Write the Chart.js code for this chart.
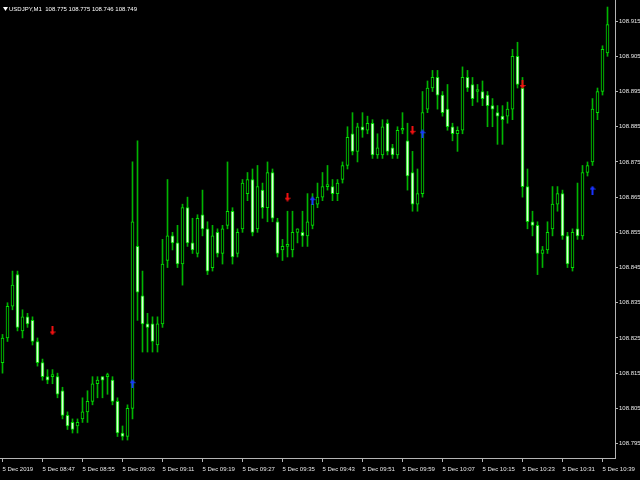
<!DOCTYPE html>
<html>
<head>
<meta charset="utf-8">
<script src="https://cdn.jsdelivr.net/npm/chart.js@4"></script>
<style>
  html, body { margin: 0; padding: 0; background: #000; }
  canvas { display: block; background: #000; }
</style>
</head>
<body>
<canvas id="chart" width="640" height="480"></canvas>
<script>
// USDJPY M1, 5 Dec 2019 08:39 - 10:40
const opens = [108.818,108.825,108.834,108.843,108.827,108.831,108.830,108.824,108.818,108.814,
  108.814,108.814,108.810,108.803,108.801,108.800,108.802,108.804,108.807,108.812,
  108.814,108.814,108.813,108.807,108.798,108.797,108.805,108.851,108.837,108.829,
  108.829,108.823,108.829,108.847,108.854,108.852,108.846,108.862,108.852,108.849,
  108.860,108.856,108.845,108.855,108.849,108.857,108.861,108.849,108.856,108.866,
  108.870,108.856,108.867,108.862,108.872,108.858,108.850,108.851,108.850,108.855,
  108.855,108.854,108.857,108.863,108.865,108.868,108.868,108.866,108.870,108.874,
  108.883,108.878,108.885,108.884,108.886,108.877,108.877,108.886,108.879,108.877,
  108.884,108.881,108.872,108.863,108.866,108.890,108.896,108.899,108.894,108.890,
  108.885,108.883,108.884,108.899,108.897,108.895,108.895,108.894,108.891,108.889,
  108.888,108.888,108.890,108.905,108.896,108.868,108.858,108.857,108.849,108.850,
  108.856,108.863,108.866,108.854,108.845,108.856,108.854,108.872,108.875,108.889,
  108.895,108.906];
const highs = [108.826,108.835,108.844,108.844,108.833,108.832,108.831,108.825,108.819,108.816,
  108.816,108.815,108.811,108.804,108.802,108.802,108.808,108.810,108.814,108.814,
  108.814,108.815,108.814,108.808,108.800,108.806,108.875,108.881,108.844,108.832,
  108.831,108.831,108.853,108.870,108.855,108.857,108.863,108.865,108.859,108.860,
  108.867,108.858,108.857,108.856,108.857,108.875,108.862,108.856,108.870,108.872,
  108.873,108.874,108.869,108.875,108.873,108.859,108.853,108.861,108.861,108.856,
  108.861,108.866,108.866,108.869,108.872,108.874,108.870,108.870,108.875,108.885,
  108.889,108.886,108.889,108.888,108.887,108.883,108.887,108.887,108.880,108.885,
  108.889,108.886,108.878,108.873,108.895,108.898,108.901,108.901,108.895,108.897,
  108.886,108.885,108.902,108.901,108.899,108.897,108.898,108.895,108.893,108.891,
  108.891,108.892,108.907,108.909,108.899,108.873,108.861,108.858,108.851,108.858,
  108.868,108.868,108.867,108.855,108.856,108.869,108.874,108.875,108.893,108.896,
  108.908,108.919];
const lows = [108.815,108.824,108.833,108.827,108.825,108.828,108.823,108.817,108.813,108.812,
  108.812,108.808,108.802,108.799,108.798,108.798,108.801,108.801,108.806,108.808,
  108.808,108.809,108.806,108.797,108.796,108.796,108.802,108.830,108.821,108.821,
  108.821,108.821,108.828,108.845,108.850,108.845,108.840,108.851,108.849,108.848,
  108.854,108.843,108.844,108.848,108.846,108.856,108.846,108.848,108.855,108.864,
  108.854,108.855,108.859,108.858,108.858,108.848,108.847,108.848,108.848,108.852,
  108.851,108.851,108.856,108.862,108.864,108.867,108.864,108.864,108.869,108.873,
  108.877,108.875,108.882,108.883,108.876,108.876,108.876,108.877,108.876,108.876,
  108.883,108.867,108.861,108.861,108.865,108.889,108.895,108.890,108.888,108.884,
  108.881,108.878,108.883,108.895,108.891,108.892,108.891,108.885,108.885,108.880,
  108.880,108.886,108.887,108.896,108.865,108.856,108.854,108.843,108.845,108.849,
  108.854,108.861,108.853,108.845,108.844,108.853,108.853,108.871,108.874,108.887,
  108.894,108.905];
const closes = [108.825,108.834,108.840,108.828,108.831,108.829,108.824,108.818,108.814,108.813,
  108.814,108.809,108.803,108.800,108.799,108.801,108.804,108.807,108.812,108.813,
  108.813,108.814,108.807,108.798,108.797,108.805,108.858,108.838,108.829,108.828,
  108.824,108.829,108.846,108.854,108.852,108.846,108.862,108.852,108.850,108.859,
  108.856,108.844,108.854,108.849,108.856,108.861,108.848,108.855,108.869,108.870,
  108.855,108.868,108.862,108.872,108.859,108.849,108.851,108.851,108.855,108.856,
  108.854,108.858,108.863,108.865,108.868,108.868,108.866,108.869,108.874,108.882,
  108.878,108.885,108.884,108.886,108.877,108.879,108.885,108.878,108.877,108.884,
  108.884,108.871,108.863,108.866,108.889,108.896,108.899,108.894,108.889,108.885,
  108.883,108.884,108.899,108.896,108.893,108.895,108.893,108.891,108.890,108.888,
  108.887,108.890,108.905,108.897,108.868,108.858,108.857,108.849,108.850,108.855,
  108.863,108.866,108.854,108.846,108.855,108.854,108.872,108.874,108.890,108.895,
  108.907,108.914];

// signal arrows (candle index, price)
const sellIdx = [10, 57, 82, 104];
const sellPrice = [108.827, 108.865, 108.884, 108.897];
const buyIdx = [26, 62, 84, 118];
const buyPrice = [108.812, 108.864, 108.883, 108.867];

const priceTicks = [108.795,108.805,108.815,108.825,108.835,108.845,108.855,108.865,108.875,108.885,108.895,108.905,108.915];
const dateTicks = ['5 Dec 2019','5 Dec 08:47','5 Dec 08:55','5 Dec 09:03','5 Dec 09:11','5 Dec 09:19','5 Dec 09:27','5 Dec 09:35',
  '5 Dec 09:43','5 Dec 09:51','5 Dec 09:59','5 Dec 10:07','5 Dec 10:15','5 Dec 10:23','5 Dec 10:31','5 Dec 10:39'];
const headerText = 'USDJPY,M1  108.775 108.775 108.746 108.749';

// one category per minute, plus an empty slot on the right
const slots = Array.from({ length: opens.length + 1 }, (_, i) => {
  const m = 8 * 60 + 39 + i;
  return String(Math.floor(m / 60)).padStart(2, '0') + ':' + String(m % 60).padStart(2, '0');
});

const FONT = '"Liberation Sans", Arial, sans-serif';
const AXIS = '#b4b4b4';

function makeArrow(color, up) {
  const cv = document.createElement('canvas');
  cv.width = 6; cv.height = 9;
  const g = cv.getContext('2d');
  g.fillStyle = color;
  if (up) {
    g.beginPath(); g.moveTo(3, 0); g.lineTo(6, 4); g.lineTo(0, 4); g.closePath(); g.fill();
    g.fillRect(2, 4, 2, 5);
  } else {
    g.fillRect(2, 0, 2, 5);
    g.beginPath(); g.moveTo(0, 5); g.lineTo(6, 5); g.lineTo(3, 9); g.closePath(); g.fill();
  }
  return cv;
}

const headerPlugin = {
  id: 'header',
  afterDraw(chart) {
    const c = chart.ctx;
    c.save();
    c.fillStyle = '#ffffff';
    c.beginPath(); c.moveTo(3, 7); c.lineTo(8, 7); c.lineTo(5.5, 11); c.closePath(); c.fill();
    c.font = '6px ' + FONT;
    c.textBaseline = 'middle';
    c.fillText(headerText, 9, 9.5);
    c.restore();
  }
};

new Chart(document.getElementById('chart'), {
  type: 'bar',
  data: {
    labels: slots,
    datasets: [
      {
        label: 'wick',
        data: lows.map((l, i) => [l, highs[i]]),
        backgroundColor: '#00b400',
        borderWidth: 0,
        barThickness: 1,
        grouped: false,
        order: 3
      },
      {
        label: 'body',
        data: opens.map((o, i) => [o, closes[i]]),
        backgroundColor: opens.map((o, i) => closes[i] >= o ? '#000000' : '#dcffd6'),
        borderColor: '#00e000',
        borderWidth: 1,
        borderSkipped: false,
        barThickness: 3,
        minBarLength: 2,
        grouped: false,
        order: 2
      },
      {
        type: 'line',
        label: 'sell',
        data: sellIdx.map((k, i) => ({ x: slots[k], y: sellPrice[i] })),
        showLine: false,
        pointStyle: makeArrow('#ee1111', false),
        pointRadius: 5,
        order: 1
      },
      {
        type: 'line',
        label: 'buy',
        data: buyIdx.map((k, i) => ({ x: slots[k], y: buyPrice[i] })),
        showLine: false,
        pointStyle: makeArrow('#1a33ff', true),
        pointRadius: 5,
        order: 1
      }
    ]
  },
  options: {
    responsive: false,
    animation: false,
    layout: { padding: 0, autoPadding: false },
    plugins: { legend: { display: false }, tooltip: { enabled: false } },
    scales: {
      x: {
        type: 'category',
        offset: true,
        afterFit: s => { s.height = 22; s.paddingLeft = 0; s.paddingRight = 0; },
        grid: {
          offset: false,
          drawOnChartArea: false,
          tickLength: 4,
          color: ctx => (ctx.index % 8 === 0 ? AXIS : 'rgba(0,0,0,0)')
        },
        border: { color: AXIS },
        ticks: {
          autoSkip: false,
          maxRotation: 0,
          align: 'start',
          padding: 4,
          color: '#e6e6e6',
          font: { family: FONT, size: 6 },
          callback: (v, i) => (i % 8 === 0 ? dateTicks[i / 8] : '')
        }
      },
      y: {
        type: 'linear',
        position: 'right',
        min: 108.7909,
        max: 108.9210,
        afterBuildTicks: s => { s.ticks = priceTicks.map(v => ({ value: v })); },
        afterFit: s => { s.width = 25; s.paddingTop = 0; s.paddingBottom = 0; },
        grid: { drawOnChartArea: false, tickLength: 3, color: AXIS },
        border: { color: AXIS },
        ticks: {
          padding: 1,
          color: '#e6e6e6',
          font: { family: FONT, size: 6 },
          callback: v => v.toFixed(3)
        }
      }
    }
  },
  plugins: [headerPlugin]
});
</script>
</body>
</html>
